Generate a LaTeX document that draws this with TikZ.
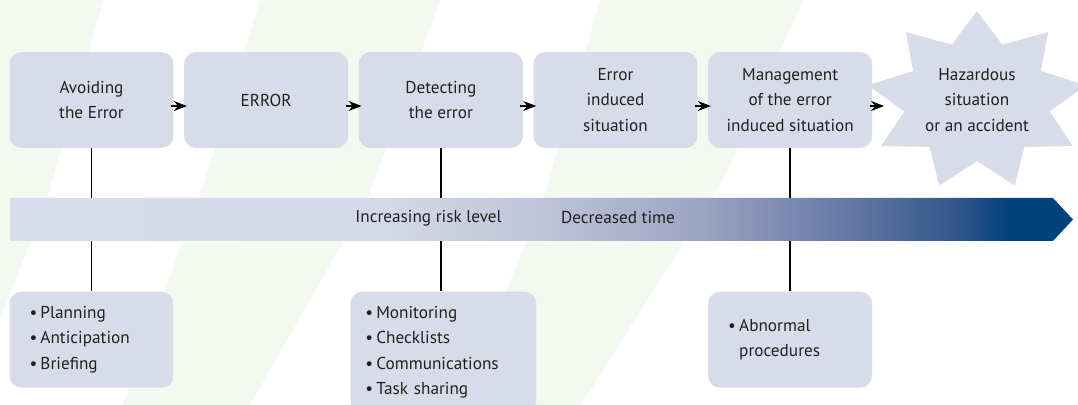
\documentclass[tikz,border=0pt]{standalone}
\usepackage{fontspec}
\setmainfont{PT Sans}
\usepackage{xcolor}
\usepackage{tikz}
\usetikzlibrary{shapes.geometric, arrows.meta, positioning}
\definecolor{errorbox}{RGB}{216, 220, 233}
\definecolor{errorstripe}{RGB}{243, 248, 241}
\definecolor{errorink}{RGB}{35, 31, 32}
\definecolor{riskA}{RGB}{217, 221, 233}
\definecolor{riskB}{RGB}{213, 217, 231}
\definecolor{riskC}{RGB}{191, 196, 217}
\definecolor{riskD}{RGB}{155, 164, 194}
\definecolor{riskE}{RGB}{100, 120, 165}
\definecolor{riskF}{RGB}{47, 85, 137}
\definecolor{riskG}{RGB}{0, 66, 124}
\pgfdeclarehorizontalshading{riskband}{100bp}{color(0bp)=(riskA); color(25bp)=(riskA); color(42.4bp)=(riskB); color(49.9bp)=(riskC); color(57.5bp)=(riskD); color(64.5bp)=(riskE); color(69.7bp)=(riskF); color(72bp)=(riskG); color(100bp)=(riskG)}
\newcommand{\bul}{\makebox[0.22cm][l]{\textbullet}}

\begin{document}
\begin{tikzpicture}[x=0.02cm, y=-0.02cm, font=\fontsize{9.8}{14.5}\selectfont, text=errorink]
    % Styles
    \tikzstyle{block} = [rectangle, fill=errorbox, rounded corners=0.24cm, align=center, minimum width=3.28cm, minimum height=1.92cm, inner sep=0pt]
    \tikzstyle{listbox} = [rectangle, fill=errorbox, rounded corners=0.24cm, align=left, minimum height=1.92cm, inner xsep=0.4cm, text width=2.48cm]
    \tikzstyle{burst} = [star, star points=9, star point ratio=1.5, fill=errorbox, minimum size=3.6cm, xscale=1.23, inner sep=0pt]
    \tikzstyle{flowarrow} = [-{Stealth[length=0.26cm, width=0.2cm]}, line width=0.6pt, black]
    \tikzstyle{link} = [line width=1pt, black]

    \useasboundingbox (0,0) rectangle (1078,405);

    % Background stripes
    \fill[errorstripe] (0,0) -- (103,0) -- (47,200) -- (0,320) -- cycle;
    \fill[errorstripe] (260,0) -- (440,0) -- (367,200) -- (250,405) -- (123,405) -- (205,180) -- cycle;
    \fill[errorstripe] (600,0) -- (803,0) -- (723,180) -- (581,405) -- (460,405) -- (543,200) -- cycle;

    % Nodes
    \node[block] (avoid) at (91.5,100) {Avoiding\\the Error};
    \node[block, right=0.2cm of avoid] (error) {ERROR};
    \node[block, right=0.2cm of error] (detect) {Detecting\\the error};
    \node[block, right=0.2cm of detect] (induced) {Error\\induced\\situation};
    \node[block, right=0.2cm of induced] (manage) {Management\\of the error\\induced situation};
    \node[burst] (hazard) at (977,101) {};
    \node[align=center] (hazardtext) at (977,100) {Hazardous\\situation\\or an accident};
    \coordinate (hazardin) at (884,106);

    \node[listbox, below=2.86cm of avoid] (plan) {\bul Planning\\\bul Anticipation\\\bul Briefing};
    \node[listbox, below=2.86cm of detect, xshift=0.05cm, text width=3.12cm, inner xsep=0.3cm, minimum height=2.42cm] (monitor) {\bul Monitoring\\\bul Checklists\\\bul Communications\\\bul Task sharing};
    \node[listbox, below=2.86cm of manage] (abnormal) {\bul Abnormal\\\hspace*{0.22cm}procedures};

    % Links
    \draw[link] (avoid) -- (plan);
    \draw[link] (detect.south) -- (detect.south |- monitor.north);
    \draw[link] (manage) -- (abnormal);

    % Risk band
    \shade[shading=riskband] (10,198) -- (1053,198) -- (1073,219.5) -- (1053,241) -- (10,241) -- cycle;
    \node (risk) at (428.5,218) {Increasing risk level};
    \node (time) at (618,218) {Decreased time};

    % Arrows
    \draw[flowarrow] ([shift={(-3,6)}]avoid.east) -- ([shift={(3,6)}]error.west);
    \draw[flowarrow] ([shift={(-3,6)}]error.east) -- ([shift={(3,6)}]detect.west);
    \draw[flowarrow] ([shift={(-3,6)}]detect.east) -- ([shift={(3,6)}]induced.west);
    \draw[flowarrow] ([shift={(-3,6)}]induced.east) -- ([shift={(3,6)}]manage.west);
    \draw[flowarrow] ([shift={(-3,6)}]manage.east) -- (hazardin);
\end{tikzpicture}
\end{document}
